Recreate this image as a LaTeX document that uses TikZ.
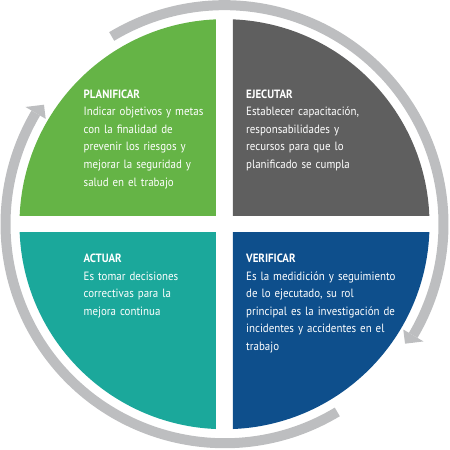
\documentclass[tikz,border=0pt]{standalone}
\usepackage{fontspec}
\setmainfont{PT Sans}[FakeStretch=0.91]
\definecolor{plangreen}{HTML}{65B446}
\definecolor{ejecgray}{HTML}{5F5F5F}
\definecolor{actteal}{HTML}{1BA89B}
\definecolor{verifblue}{HTML}{0E4F8C}
\definecolor{ringgray}{HTML}{BDBEC0}
\begin{document}
\begin{tikzpicture}[x=1pt,y=1pt,
  quadtext/.style={anchor=base west, inner sep=0pt, text=white,
    text width=190pt, align=left,
    font=\fontsize{12}{17.6}\selectfont},
  ringarc/.style={draw=ringgray, line width=10pt, line cap=butt},
  ringhead/.style={fill=ringgray}]
\useasboundingbox (-224.5,-225.8) rectangle (225.5,224.2);

% four quarters of the disc, separated by white gaps
\begin{scope}
  \clip (-8.5,8.5) rectangle (-230,230);
  \fill[plangreen] (0,0) circle (205);
\end{scope}
\begin{scope}
  \clip (8.5,8.5) rectangle (230,230);
  \fill[ejecgray] (0,0) circle (205);
\end{scope}
\begin{scope}
  \clip (-8.5,-8.5) rectangle (-230,-230);
  \fill[actteal] (0,0) circle (205);
\end{scope}
\begin{scope}
  \clip (8.5,-8.5) rectangle (230,-230);
  \fill[verifblue] (0,0) circle (205);
\end{scope}

% circular arrows around the disc
\draw[ringarc] (121:219) arc[start angle=121, end angle=-30.5, radius=219];
\fill[ringhead] (-30.5:207.5) -- (-33.5:216.5) -- (-30.5:231) -- cycle;
\draw[ringarc] (-59:219) arc[start angle=-59, end angle=-210.5, radius=219];
\fill[ringhead] (149.5:207.5) -- (146.5:216.5) -- (149.5:231) -- cycle;

% texts of the four phases
\node[quadtext] (plan) at (-141,126) {{\bfseries PLANIFICAR}\\
  Indicar objetivos y metas\\
  con la finalidad de\\
  prevenir los riesgos y\\
  mejorar la seguridad y\\
  salud en el trabajo};
\node[quadtext] (ejec) at (21.5,126) {{\bfseries EJECUTAR}\\
  Establecer capacitación,\\
  responsabilidades y\\
  recursos para que lo\\
  planificado se cumpla};
\node[quadtext] (act) at (-141,-38.2) {{\bfseries ACTUAR}\\
  Es tomar decisiones\\
  correctivas para la\\
  mejora continua};
\node[quadtext] (verif) at (21.5,-38.2) {{\bfseries VERIFICAR}\\
  Es la medidición y seguimiento\\
  de lo ejecutado, su rol\\
  principal es la investigación de\\
  incidentes y accidentes en el\\
  trabajo};
\end{tikzpicture}
\end{document}
